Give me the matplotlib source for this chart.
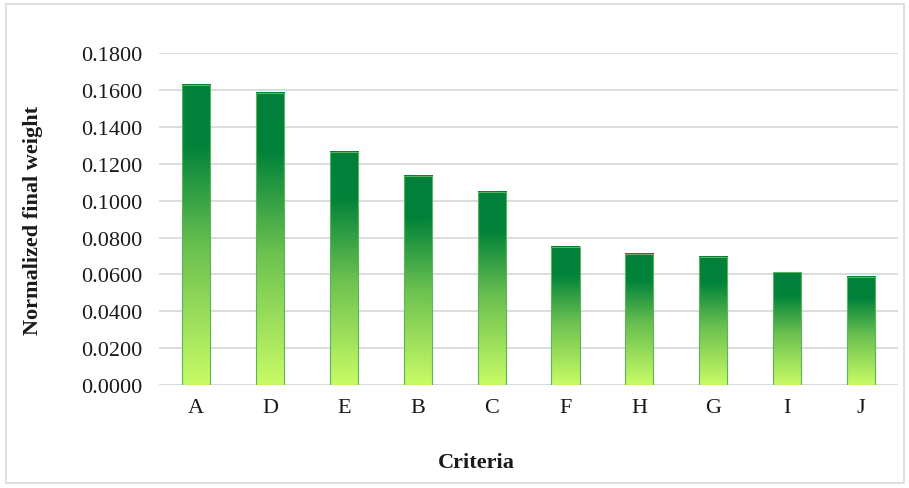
import numpy as np
import matplotlib
matplotlib.use("Agg")
import matplotlib.pyplot as plt
from matplotlib.colors import LinearSegmentedColormap
from matplotlib.patches import Rectangle

criteria = ["A", "D", "E", "B", "C", "F", "H", "G", "I", "J"]
weights = [0.1627, 0.1585, 0.1263, 0.1135, 0.1047, 0.0750, 0.0710, 0.0696, 0.0611, 0.0585]
yticks = [0.0, 0.02, 0.04, 0.06, 0.08, 0.10, 0.12, 0.14, 0.16, 0.18]

plt.rcParams['font.family'] = ['Liberation Serif', 'DejaVu Serif']

# bottom -> top gradient like the Excel fill
cmap = LinearSegmentedColormap.from_list(
    "grn", [(0.0, "#c8fb66"), (0.45, "#6cc150"), (0.8, "#00823a"), (1.0, "#00803a")])

fig = plt.figure(figsize=(9.09, 4.89), dpi=100)
ax = fig.add_axes([0.175, 0.21, 0.813, 0.68])

x = np.arange(len(criteria))
w = 0.38
grad = np.linspace(0, 1, 256).reshape(-1, 1)
for xi, h in zip(x, weights):
    ax.imshow(grad, cmap=cmap, origin="lower", aspect="auto",
              extent=[xi - w / 2, xi + w / 2, 0, h], zorder=3)
    ax.add_patch(Rectangle((xi - w / 2, 0), w, h, fill=False,
                           edgecolor="#5ab55a", linewidth=0.8, zorder=4))

ax.set_xlim(-0.5, len(criteria) - 0.5)
ax.set_ylim(0, 0.18)
ax.set_yticks(yticks)
ax.set_yticklabels(["{:.4f}".format(t) for t in yticks])
ax.set_xticks(x)
ax.set_xticklabels(criteria)
ax.tick_params(length=0, labelsize=16, colors="#1a1a1a")
ax.tick_params(axis="y", pad=12)
ax.tick_params(axis="x", pad=9)
ax.grid(axis="y", color="#d9d9d9", linewidth=1.3, zorder=0)
ax.set_axisbelow(True)
for s in ax.spines.values():
    s.set_visible(False)

fig.text(0.036, 0.55, "Normalized final weight", fontsize=16, fontweight="bold",
         rotation=90, ha="center", va="center", color="#1a1a1a")
fig.text(0.524, 0.053, "Criteria", fontsize=16, fontweight="bold",
         ha="center", va="center", color="#1a1a1a")

fig.patches.append(Rectangle((0.007, 0.01), 0.987, 0.98, transform=fig.transFigure,
                             fill=False, edgecolor="#d9d9d9", linewidth=1.2))

fig.savefig("out.png", dpi=100)
